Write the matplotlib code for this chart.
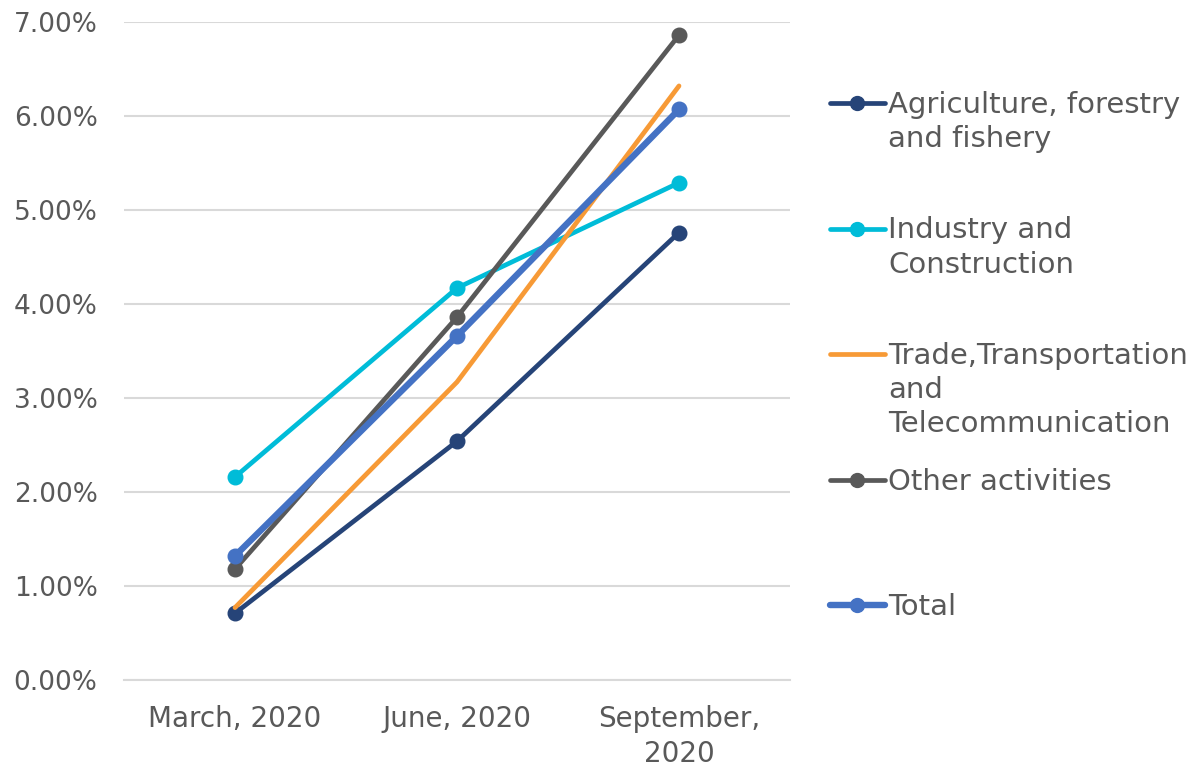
import matplotlib.pyplot as plt
from matplotlib.lines import Line2D
from matplotlib.ticker import FuncFormatter

quarters = ['March, 2020', 'June, 2020', 'September,\n2020']
series_names = ['Agriculture, forestry\nand fishery',
                'Industry and\nConstruction',
                'Trade,Transportation\nand\nTelecommunication',
                'Other activities',
                'Total']
agriculture = [0.71, 2.54, 4.76]
industry = [2.16, 4.17, 5.29]
trade = [0.77, 3.17, 6.32]
other = [1.18, 3.86, 6.86]
total = [1.32, 3.66, 6.07]

values = [agriculture, industry, trade, other, total]
colors = ['#264478', '#00BCD8', '#F79A36', '#595959', '#4472C4']
markers = ['o', 'o', None, 'o', 'o']
widths = [3.4, 3.4, 3.4, 3.4, 4.6]
text_col = '#595959'

W, H = 1199, 769
fig = plt.figure(figsize=(W / 100, H / 100), dpi=100)
ax = fig.add_axes([124 / W, 1 - 680 / H, (790 - 124) / W, (680 - 22) / H])

x = range(len(quarters))
for vals, c, m, lw in zip(values, colors, markers, widths):
    ax.plot(x, vals, color=c, marker=m, markersize=10.5, lw=lw,
            solid_capstyle='round', zorder=3)

ax.set_xlim(-0.5, 2.5)
ax.set_ylim(0, 7)
ax.set_yticks(range(8))
ax.yaxis.set_major_formatter(FuncFormatter(lambda v, p: f'{v:.2f}%'))
ax.set_xticks(list(x))
ax.set_xticklabels(quarters, linespacing=1.3)
ax.grid(axis='y', color='#D9D9D9', lw=1.5)
ax.set_axisbelow(True)
for s in ['top', 'right', 'left']:
    ax.spines[s].set_visible(False)
ax.spines['bottom'].set_color('#D9D9D9')
ax.spines['bottom'].set_linewidth(1.5)
ax.tick_params(length=0, colors=text_col)
ax.tick_params(axis='y', labelsize=19, pad=19)
ax.tick_params(axis='x', labelsize=20, pad=18)

# legend, drawn by hand so the handle sits on the first text line
for i, (name, c, m, lw) in enumerate(zip(series_names, colors, markers, widths)):
    yp = 1 - (103 + 125.5 * i) / H
    fig.add_artist(Line2D([830 / W, 885 / W], [yp, yp], color=c, lw=lw,
                          solid_capstyle='round'))
    if m:
        fig.add_artist(Line2D([857 / W], [yp], color=c, marker=m, markersize=10))
    fig.text(888 / W, yp + 12 / H, name, fontsize=21, color=text_col,
             va='top', ha='left', linespacing=1.28)

fig.savefig('out.png', dpi=100)
